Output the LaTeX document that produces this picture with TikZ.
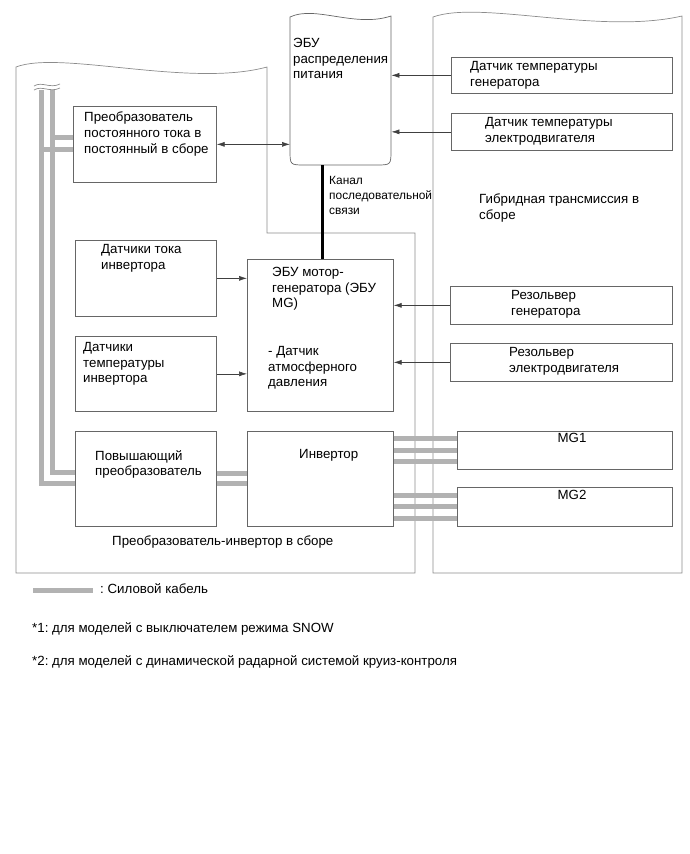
\documentclass[tikz,border=0pt]{standalone}
\usepackage{fontspec}
\setmainfont{Liberation Sans}
\usetikzlibrary{arrows.meta,calc}
\frenchspacing
\begin{document}
\begin{tikzpicture}[x=1pt,y=-1pt,
  box/.style={draw=black!60, line width=0.7pt, inner sep=0pt, anchor=north west},
  frame/.style={draw=black!45, line width=0.7pt},
  txt/.style={inner sep=0pt, anchor=north west, align=left, font=\fontsize{13.3}{15.7}\selectfont},
  smalltxt/.style={inner sep=0pt, anchor=north west, align=left, font=\fontsize{11.9}{15}\selectfont},
  arr/.style={draw=black!75, line width=0.6pt, -{Latex[length=8pt,width=5pt]}},
  darr/.style={draw=black!75, line width=0.6pt, {Latex[length=8pt,width=5pt]}-{Latex[length=8pt,width=5pt]}},
  cable/.style={draw=black!30, line width=5pt},
  serial/.style={draw=black, line width=2.6pt}]
\useasboundingbox (0,0) rectangle (690,854);

% frames
\draw[frame] (16,573) -- (16,67) .. controls (60,50) and (190,88) .. (267,67)
  -- (267,233) -- (415,233) -- (415,573) -- cycle;
\draw[frame] (433,573) -- (433,17) .. controls (480,0) and (600,35) .. (682,16)
  -- (682,573) -- cycle;
% ECU power distribution
\draw[frame, draw=black!60] (290,150) -- (290,17) .. controls (315,5) and (355,28) .. (391,16)
  -- (391,150) .. controls (391,165) .. (376,165) -- (305,165) .. controls (290,165) .. (290,150) -- cycle;
\node[inner sep=0pt, minimum width=101pt, minimum height=150pt, anchor=north west] (ecupow) at (290,15) {};

% boxes
\node[box, minimum width=143pt, minimum height=76pt] (dcdc) at (73,106) {};
\node[box, minimum width=221pt, minimum height=36pt] (s1) at (451,57) {};
\node[box, minimum width=221pt, minimum height=37pt] (s2) at (451,113) {};
\node[box, minimum width=141pt, minimum height=76pt] (curs) at (75,240) {};
\node[box, minimum width=141pt, minimum height=75pt] (temps) at (75,336) {};
\node[box, minimum width=146pt, minimum height=152pt] (ecumg) at (247,259) {};
\node[box, minimum width=222pt, minimum height=38pt] (rgen) at (450,286) {};
\node[box, minimum width=222pt, minimum height=38pt] (rmot) at (450,343) {};
\node[box, minimum width=141pt, minimum height=95pt] (boost) at (75,431) {};
\node[box, minimum width=146pt, minimum height=95pt] (inv) at (247,431) {};
\node[box, minimum width=215pt, minimum height=38pt] (mg1) at (457,431) {};
\node[box, minimum width=215pt, minimum height=39pt] (mg2) at (457,487) {};

% texts
\node[txt] (tdcdc) at (84,112) {Преобразователь\\постоянного тока в\\постоянный в сборе};
\node[txt] (tecupow) at (293,38) {ЭБУ\\распределения\\питания};
\node[txt] (ts1) at (470,61) {Датчик температуры\\генератора};
\node[txt] (ts2) at (485,117) {Датчик температуры\\электродвигателя};
\node[smalltxt] (tser) at (329,176) {Канал\\последовательной\\связи};
\node[txt] (thyb) at (479,194) {Гибридная трансмиссия в\\сборе};
\node[txt] (tcurs) at (101,244) {Датчики тока\\инвертора};
\node[txt] (ttemps) at (83,342) {Датчики\\температуры\\инвертора};
\node[txt] (tecumg) at (272,267) {ЭБУ мотор-\\генератора (ЭБУ\\MG)};
\node[txt] (tatm) at (268,346) {- Датчик\\атмосферного\\давления};
\node[txt] (trgen) at (511,290) {Резольвер\\генератора};
\node[txt] (trmot) at (509,347) {Резольвер\\электродвигателя};
\node[txt] (tboost) at (95,450) {Повышающий\\преобразователь};
\node[txt] (tinv) at (299,449) {Инвертор};
\node[txt, anchor=north] (tmg1) at (572,433) {MG1};
\node[txt, anchor=north] (tmg2) at (572,490) {MG2};
\node[txt] (tasm) at (112,536) {Преобразователь-инвертор в сборе};
\node[txt] (tleg) at (100,583) {: Силовой кабель};
\node[txt] (tfn1) at (32,622) {*1: для моделей с выключателем режима SNOW};
\node[txt] (tfn2) at (32,655) {*2: для моделей с динамической радарной системой круиз-контроля};

% signal arrows
\draw[arr] (s1.west) -- (s1.west -| ecupow.east);
\draw[arr] (s2.west) -- (s2.west -| ecupow.east);
\draw[darr] (dcdc.east) -- (dcdc.east -| ecupow.west);
\draw[arr] (curs.east) -- (curs.east -| ecumg.west);
\draw[arr] (temps.east) -- (temps.east -| ecumg.west);
\draw[arr] (rgen.west) -- (rgen.west -| ecumg.east);
\draw[arr] (rmot.west) -- (rmot.west -| ecumg.east);
\draw[serial] ([xshift=2pt]ecumg.north) -- ([xshift=2pt]ecumg.north |- ecupow.south);

% power cables
\coordinate (cabO) at (41,90);
\coordinate (cabI) at (52,90);
\draw[cable] (cabO) -- (cabO |- 0,483) -- (boost.west |- 0,483);
\draw[cable] (cabI) -- (cabI |- 0,472) -- (boost.west |- 0,472);
\draw[cable] (cabI |- 0,137) -- (dcdc.west |- 0,137);
\draw[cable] (cabO |- 0,149) -- (dcdc.west |- 0,149);
\draw[frame] (34,86) .. controls (42,81) and (50,89) .. (60,84);
\draw[frame] (34,90) .. controls (42,85) and (50,93) .. (60,88);
\foreach \d in {-5,5}
  \draw[cable] ([yshift=\d pt]boost.east) -- ([yshift=\d pt]boost.east -| inv.west);
\foreach \d in {-11.5,0,11.5}{
  \draw[cable] ([yshift=\d pt]mg1.west -| inv.east) -- ([yshift=\d pt]mg1.west);
  \draw[cable] ([yshift=\d pt]mg2.west -| inv.east) -- ([yshift=\d pt]mg2.west);
}
% legend
\coordinate (legA) at (33,590);
\draw[cable] (legA) -- (93,590);
\end{tikzpicture}
\end{document}
